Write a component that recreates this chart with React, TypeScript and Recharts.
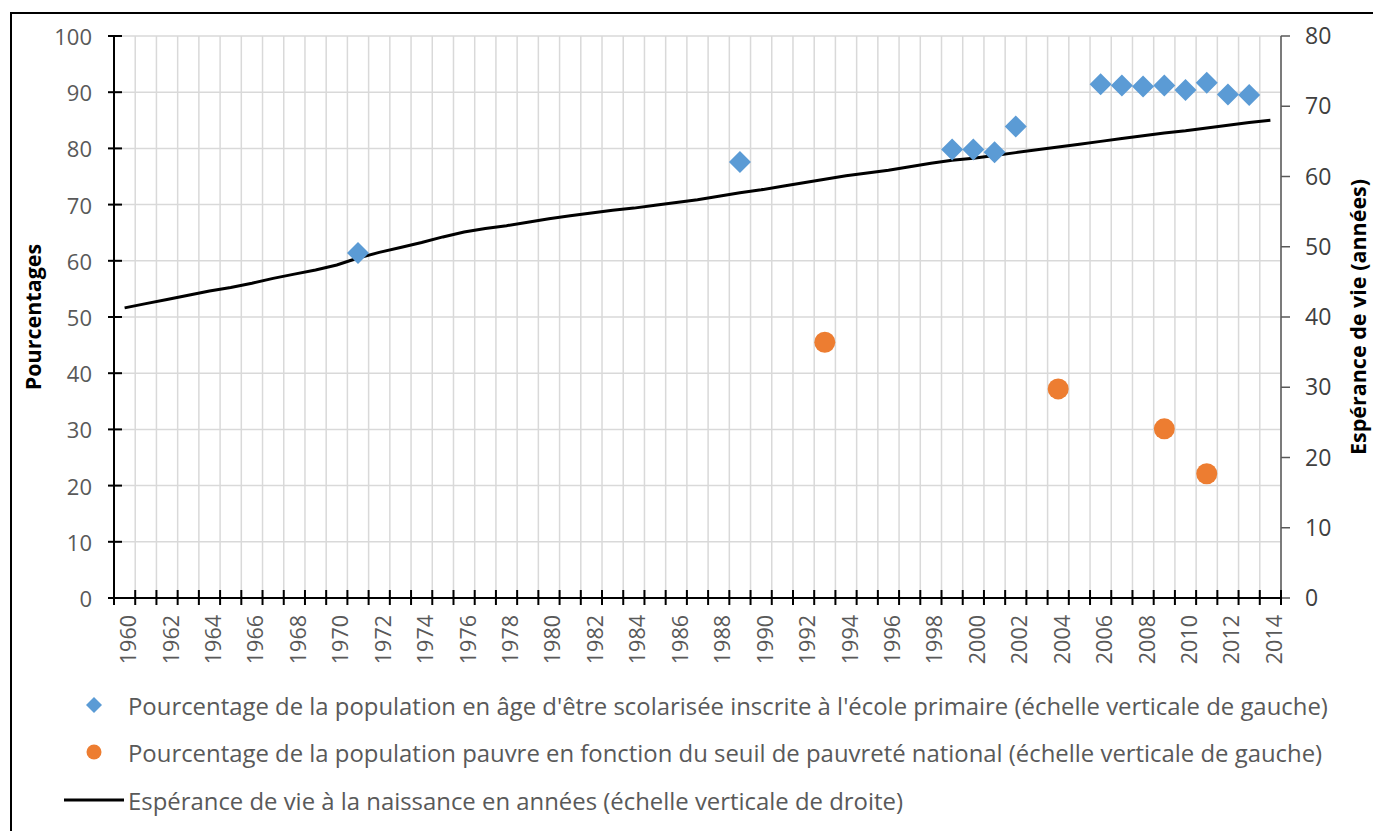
import { ComposedChart, Line, Scatter, XAxis, YAxis, CartesianGrid } from 'recharts'

const ANNEES = [
  1960, 1961, 1962, 1963, 1964, 1965, 1966, 1967, 1968, 1969,
  1970, 1971, 1972, 1973, 1974, 1975, 1976, 1977, 1978, 1979,
  1980, 1981, 1982, 1983, 1984, 1985, 1986, 1987, 1988, 1989,
  1990, 1991, 1992, 1993, 1994, 1995, 1996, 1997, 1998, 1999,
  2000, 2001, 2002, 2003, 2004, 2005, 2006, 2007, 2008, 2009,
  2010, 2011, 2012, 2013, 2014,
]

// espérance de vie (échelle de droite)
const ESPERANCE_VIE = [
  41.3, 41.9, 42.5, 43.1, 43.7, 44.2, 44.8, 45.5, 46.1, 46.7,
  47.4, 48.4, 49.2, 49.9, 50.6, 51.4, 52.1, 52.6, 53.0, 53.5,
  54.0, 54.4, 54.8, 55.2, 55.5, 55.9, 56.3, 56.7, 57.2, 57.7,
  58.1, 58.6, 59.1, 59.6, 60.1, 60.5, 60.9, 61.4, 61.9, 62.3,
  62.6, 63.0, 63.4, 63.8, 64.2, 64.6, 65.0, 65.4, 65.8, 66.2,
  66.5, 66.9, 67.3, 67.7, 68.0,
]

const SCOL_ANNEES = [1971, 1989, 1999, 2000, 2001, 2002, 2006, 2007, 2008, 2009, 2010, 2011, 2012, 2013]
const SCOL_VALEURS = [61.4, 77.6, 79.8, 79.8, 79.3, 83.9, 91.4, 91.2, 91.0, 91.2, 90.4, 91.7, 89.6, 89.5]

const PAUV_ANNEES = [1993, 2004, 2009, 2011]
const PAUV_VALEURS = [45.5, 37.2, 30.1, 22.1]

const TICKS_GAUCHE = [0, 10, 20, 30, 40, 50, 60, 70, 80, 90, 100]
const TICKS_DROITE = [0, 10, 20, 30, 40, 50, 60, 70, 80]
const LABELS_ANNEES = [
  1960, 1962, 1964, 1966, 1968, 1970, 1972, 1974, 1976, 1978, 1980, 1982, 1984, 1986,
  1988, 1990, 1992, 1994, 1996, 1998, 2000, 2002, 2004, 2006, 2008, 2010, 2012, 2014,
]

const NOM_SCOL = "Pourcentage de la population en âge d'être scolarisée inscrite à l'école primaire (échelle verticale de gauche)"
const NOM_PAUV = 'Pourcentage de la population pauvre en fonction du seuil de pauvreté national (échelle verticale de gauche)'
const NOM_VIE = 'Espérance de vie à la naissance en années (échelle verticale de droite)'

const BLEU = '#5B9BD5'
const ORANGE = '#ED7D31'
const FONT = '"Open Sans", sans-serif'

const lignes = ANNEES.map((a, i) => ({ annee: a, vie: ESPERANCE_VIE[i] }))
const scol = SCOL_ANNEES.map((a, i) => ({ annee: a, val: SCOL_VALEURS[i] }))
const pauv = PAUV_ANNEES.map((a, i) => ({ annee: a, val: PAUV_VALEURS[i] }))
// limites entre les années (graduations et grille verticale)
const limites = [ANNEES[0] - 0.5, ...ANNEES.map((a) => a + 0.5)]

const Losange = (p: any) => (
  <polygon
    points={`${p.cx},${p.cy - 11} ${p.cx + 11},${p.cy} ${p.cx},${p.cy + 11} ${p.cx - 11},${p.cy}`}
    fill={BLEU}
  />
)
const Rond = (p: any) => <circle cx={p.cx} cy={p.cy} r={10.5} fill={ORANGE} />

const TickGauche = ({ x, y, payload }: any) => (
  <g>
    <line x1={x - 6} x2={x + 8} y1={y} y2={y} stroke="#000" strokeWidth={2} />
    <text x={x - 22} y={y} textAnchor="end" dominantBaseline="central" fill="#595959" fontSize={22} fontFamily={FONT}>
      {payload.value}
    </text>
  </g>
)

const TickLimite = ({ x, y }: any) => (
  <line x1={x} x2={x} y1={y - 8} y2={y + 7} stroke="#000" strokeWidth={2} />
)

const TickAnnee = ({ x, y, payload }: any) => (
  <text
    x={x + 3} y={y}
    transform={`rotate(-90 ${x + 3} ${y})`}
    textAnchor="end" dominantBaseline="central"
    fill="#595959" fontSize={21.5} fontFamily={FONT}
  >
    {payload.value}
  </text>
)

const rangee = (top: number, icone: any, texte: string) => (
  <div style={{ position: 'absolute', left: 60, top: top - 18, height: 36, display: 'flex', alignItems: 'center' }}>
    <div style={{ width: 68, display: 'flex', justifyContent: 'center' }}>{icone}</div>
    <span style={{ fontSize: 23.9, color: '#595959', whiteSpace: 'nowrap' }}>{texte}</span>
  </div>
)

export default function App() {
  return (
    <div style={{ position: 'absolute', left: 0, top: 0, width: 1373, height: 831, overflow: 'hidden', background: '#fff', fontFamily: FONT }}>
      {/* cadre : seuls les bords haut et gauche sont visibles */}
      <div style={{ position: 'absolute', left: 10, top: 12, width: 1420, height: 880, border: '2px solid #000' }} />
      <ComposedChart
        width={1373} height={831} data={lignes}
        margin={{ top: 36, right: 0, bottom: 161, left: 0 }}
        style={{ position: 'absolute', left: 0, top: 0 }}
      >
        <CartesianGrid xAxisId="grid" yAxisId="left" stroke="#d9d9d9" strokeWidth={1.5} />
        <XAxis
          xAxisId="grid" dataKey="annee" type="number" domain={[1959.5, 2014.5]}
          ticks={limites} interval={0} height={12}
          axisLine={{ stroke: '#000', strokeWidth: 2 }} tickLine={false}
          tickSize={0} tickMargin={0} tick={<TickLimite />}
        />
        <XAxis
          xAxisId="lab" dataKey="annee" type="number" domain={[1959.5, 2014.5]}
          ticks={LABELS_ANNEES} interval={0} height={60}
          axisLine={false} tickLine={false} tickSize={0} tickMargin={5} tick={<TickAnnee />}
        />
        <YAxis
          yAxisId="left" domain={[0, 100]} ticks={TICKS_GAUCHE} interval={0} width={114}
          axisLine={{ stroke: '#000', strokeWidth: 2 }} tickLine={false}
          tickSize={0} tickMargin={0} tick={<TickGauche />}
          label={{
            value: 'Pourcentages', angle: -90, position: 'insideLeft', offset: 33,
            style: { textAnchor: 'middle', fontWeight: 700, fontSize: 21.5, fill: '#000', fontFamily: FONT },
          }}
        />
        <YAxis
          yAxisId="right" orientation="right" domain={[0, 80]} ticks={TICKS_DROITE} interval={0} width={92}
          axisLine={{ stroke: '#595959', strokeWidth: 1.5 }} tickLine={{ stroke: '#595959', strokeWidth: 1.5 }}
          tickSize={9} tickMargin={15}
          tick={{ fill: '#404040', fontSize: 23, fontFamily: FONT }}
          label={{
            value: 'Espérance de vie (années)', angle: -90, position: 'insideRight', offset: 15,
            style: { textAnchor: 'middle', fontWeight: 700, fontSize: 21.5, fill: '#000', fontFamily: FONT },
          }}
        />
        <Line
          xAxisId="grid" yAxisId="right" dataKey="vie" type="linear"
          stroke="#000" strokeWidth={3} dot={false} isAnimationActive={false}
        />
        <Scatter xAxisId="grid" yAxisId="left" data={scol} dataKey="val" shape={Losange} isAnimationActive={false} />
        <Scatter xAxisId="grid" yAxisId="left" data={pauv} dataKey="val" shape={Rond} isAnimationActive={false} />
      </ComposedChart>
      {rangee(705,
        <svg width={16} height={16}><polygon points="8,0 16,8 8,16 0,8" fill={BLEU} /></svg>,
        NOM_SCOL)}
      {rangee(752,
        <svg width={16} height={16}><circle cx={8} cy={8} r={7.5} fill={ORANGE} /></svg>,
        NOM_PAUV)}
      {rangee(800,
        <svg width={60} height={6}><line x1={0} x2={60} y1={3} y2={3} stroke="#000" strokeWidth={3} /></svg>,
        NOM_VIE)}
    </div>
  )
}
